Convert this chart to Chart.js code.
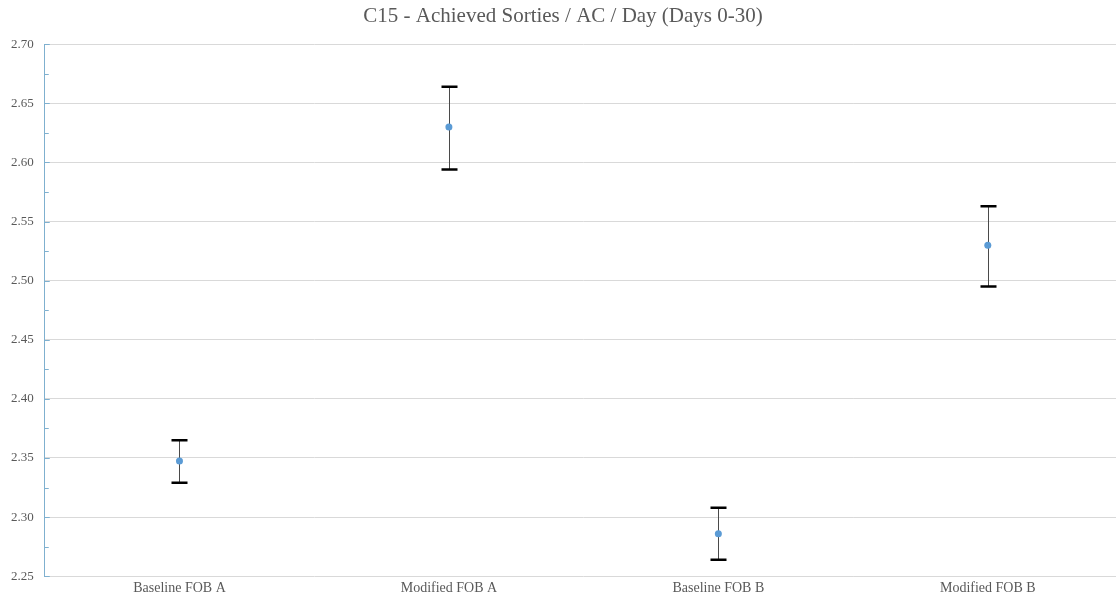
<!DOCTYPE html>
<html>
<head>
<meta charset="utf-8">
<script src="https://cdn.jsdelivr.net/npm/chart.js@4.4.0/dist/chart.umd.min.js"></script>
<style>
  html, body { margin: 0; padding: 0; background: #fff; overflow: hidden; }
  #wrap { width: 1126px; height: 601px; }
</style>
</head>
<body>
<div id="wrap"><canvas id="errChart"></canvas></div>
<script>
  // data
  const categories = ["Baseline FOB A", "Modified FOB A", "Baseline FOB B", "Modified FOB B"];
  const means = [2.3475, 2.630, 2.286, 2.530];
  const lowerVals = [2.329, 2.594, 2.264, 2.495];
  const upperVals = [2.365, 2.664, 2.308, 2.563];

  const axisBlue = "#7fb0cf";
  const textGrey = "#595959";

  function isMajor(v) {
    return Math.round(v * 1000) % 50 === 0;
  }

  // Error bars + inside tick marks
  const errorBars = {
    id: "errorBars",
    beforeDatasetsDraw(chart) {
      const c = chart.ctx;
      const xs = chart.scales.x;
      const ys = chart.scales.y;
      c.save();
      for (let i = 0; i < categories.length; i++) {
        const x = Math.round(xs.getPixelForValue(i)) + 0.5;
        const top = ys.getPixelForValue(upperVals[i]);
        const bot = ys.getPixelForValue(lowerVals[i]);
        c.strokeStyle = "#4a4a4a";
        c.lineWidth = 1;
        c.beginPath();
        c.moveTo(x, top);
        c.lineTo(x, bot);
        c.stroke();
        c.strokeStyle = "#000";
        c.lineWidth = 2.5;
        c.beginPath();
        c.moveTo(x - 8, top);
        c.lineTo(x + 8, top);
        c.moveTo(x - 8, bot);
        c.lineTo(x + 8, bot);
        c.stroke();
      }
      // small ticks on the inside of the y axis
      c.strokeStyle = axisBlue;
      c.lineWidth = 1;
      ys.ticks.forEach(function (t) {
        const y = Math.round(ys.getPixelForValue(t.value)) + 0.5;
        c.beginPath();
        c.moveTo(ys.right, y);
        c.lineTo(ys.right + (isMajor(t.value) ? 5 : 4), y);
        c.stroke();
      });
      c.restore();
    },
  };

  const ctx = document.getElementById("errChart").getContext("2d");
  new Chart(ctx, {
    type: "line",
    data: {
      labels: categories,
      datasets: [
        {
          data: means,
          showLine: false,
          pointRadius: 3.5,
          pointHoverRadius: 3.5,
          pointBackgroundColor: "#5b9bd5",
          pointBorderColor: "#5b9bd5",
          pointBorderWidth: 0,
        },
      ],
    },
    options: {
      responsive: true,
      maintainAspectRatio: false,
      animation: false,
      layout: { padding: { left: 0, right: 0, top: 2, bottom: 0 } },
      plugins: {
        legend: { display: false },
        tooltip: { enabled: false },
        title: {
          display: true,
          text: "C15 - Achieved Sorties / AC / Day (Days 0-30)",
          color: textGrey,
          font: { family: "Liberation Serif", size: 21, weight: "normal" },
          padding: { top: 2, bottom: 15 },
        },
      },
      scales: {
        x: {
          type: "category",
          offset: true,
          grid: { display: false, drawTicks: false },
          border: { display: false },
          ticks: {
            color: textGrey,
            font: { family: "Liberation Serif", size: 14 },
            padding: 4,
          },
        },
        y: {
          min: 2.25,
          max: 2.7,
          border: { display: true, color: axisBlue, width: 1 },
          grid: {
            drawTicks: false,
            color: function (c) {
              return isMajor(c.tick.value) ? "#d9d9d9" : "rgba(0,0,0,0)";
            },
          },
          ticks: {
            stepSize: 0.025,
            autoSkip: false,
            color: textGrey,
            font: { family: "Liberation Serif", size: 13 },
            padding: 11,
            callback: function (v) {
              return isMajor(v) ? v.toFixed(2) : "";
            },
          },
        },
      },
    },
    plugins: [errorBars],
  });
</script>
</body>
</html>
